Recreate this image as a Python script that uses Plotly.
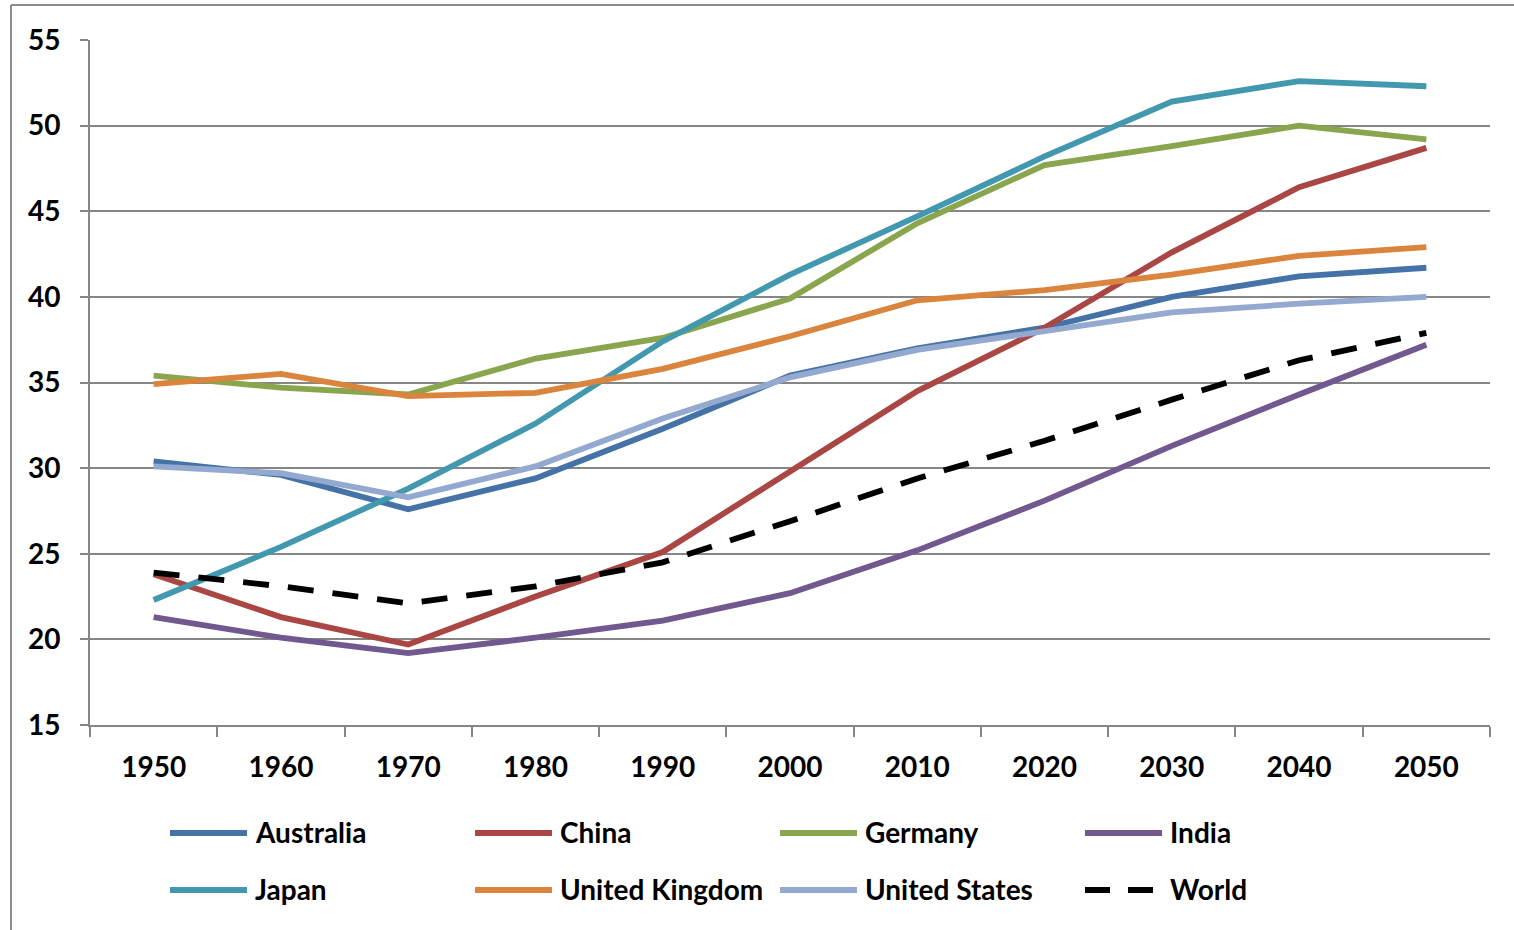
import plotly.graph_objects as go

years = ["1950", "1960", "1970", "1980", "1990", "2000", "2010", "2020", "2030", "2040", "2050"]

australia = [30.4, 29.6, 27.6, 29.4, 32.3, 35.4, 37.0, 38.2, 40.0, 41.2, 41.7]
china = [23.8, 21.3, 19.7, 22.5, 25.1, 29.8, 34.5, 38.2, 42.6, 46.4, 48.7]
germany = [35.4, 34.7, 34.3, 36.4, 37.6, 39.9, 44.3, 47.7, 48.8, 50.0, 49.2]
india = [21.3, 20.1, 19.2, 20.1, 21.1, 22.7, 25.2, 28.1, 31.3, 34.3, 37.2]
japan = [22.3, 25.4, 28.8, 32.6, 37.4, 41.3, 44.7, 48.2, 51.4, 52.6, 52.3]
united_kingdom = [34.9, 35.5, 34.2, 34.4, 35.8, 37.7, 39.8, 40.4, 41.3, 42.4, 42.9]
united_states = [30.1, 29.7, 28.3, 30.1, 32.9, 35.3, 36.9, 38.0, 39.1, 39.6, 40.0]
world = [23.9, 23.1, 22.1, 23.1, 24.5, 26.9, 29.4, 31.6, 34.0, 36.3, 37.9]

series_names = ["Australia", "China", "Germany", "India", "Japan",
                "United Kingdom", "United States", "World"]
series_values = [australia, china, germany, india, japan,
                 united_kingdom, united_states, world]
series_colors = ["#4572A7", "#AA4643", "#89A54E", "#71588F", "#4198AF",
                 "#DB843D", "#93A9CF", "#000000"]
series_dash = ["solid"] * 7 + ["26px,19px"]

FONT = "Lato, Roboto, 'Open Sans', sans-serif"
FS = 28
W, H = 1514, 930
ML, MR, MT, MB = 90, 24, 40, 205
PW = W - ML - MR
PH = H - MT - MB


def px_x(p):
    return (p - ML) / PW


def px_y(p):
    return (H - MB - p) / PH


fig = go.Figure()
for name, vals, col, dash in zip(series_names, series_values, series_colors, series_dash):
    fig.add_trace(go.Scatter(
        x=years, y=vals, mode="lines", name=name,
        line=dict(color=col, width=5.8, dash=dash),
        showlegend=False,
    ))

shapes = []
annotations = []
# custom legend (4 columns x 2 rows)
col_x = [170, 475, 780, 1085]
row_y = [833, 890]
for i, (name, col, dash) in enumerate(zip(series_names, series_colors, series_dash)):
    r, c = divmod(i, 4)
    x0 = col_x[c]
    y0 = row_y[r]
    shapes.append(dict(
        type="line", xref="paper", yref="paper",
        x0=px_x(x0), x1=px_x(x0 + 77), y0=px_y(y0), y1=px_y(y0),
        line=dict(color=col, width=6, dash=("25px,18px" if dash != "solid" else "solid")),
    ))
    annotations.append(dict(
        text=name, xref="paper", yref="paper",
        x=px_x(x0 + 83), y=px_y(y0 - 1), xanchor="left", yanchor="middle",
        showarrow=False, font=dict(family=FONT, size=FS, color="#000000", weight="bold"),
    ))

# chart outer border (left and top)
shapes.append(dict(type="line", xref="paper", yref="paper",
                   x0=px_x(11), x1=px_x(11), y0=px_y(5), y1=px_y(940),
                   line=dict(color="#8C8C8C", width=2)))
shapes.append(dict(type="line", xref="paper", yref="paper",
                   x0=px_x(11), x1=px_x(1520), y0=px_y(5), y1=px_y(5),
                   line=dict(color="#8C8C8C", width=2)))

fig.update_layout(
    width=W, height=H,
    margin=dict(l=ML, r=MR, t=MT, b=MB, pad=0),
    paper_bgcolor="white", plot_bgcolor="white",
    font=dict(family=FONT, size=FS, color="#000000"),
    shapes=shapes, annotations=annotations,
    showlegend=False,
)
fig.update_xaxes(
    type="category", range=[-0.5, 10.5],
    showline=True, linecolor="#868686", linewidth=2,
    ticks="outside", ticklen=10, tickwidth=2, tickcolor="#868686",
    tickson="boundaries", showgrid=False, zeroline=False,
    ticklabelstandoff=16,
    tickfont=dict(family=FONT, size=FS, color="#000000", weight="bold"),
)
fig.update_yaxes(
    range=[15, 55], dtick=5, tick0=15,
    showline=True, linecolor="#868686", linewidth=2,
    ticks="outside", ticklen=8, tickwidth=2, tickcolor="#868686",
    showgrid=True, gridcolor="#868686", gridwidth=2, zeroline=False,
    ticklabelstandoff=14,
    tickfont=dict(family=FONT, size=FS, color="#000000", weight="bold"),
)

fig.write_html("out.html")
